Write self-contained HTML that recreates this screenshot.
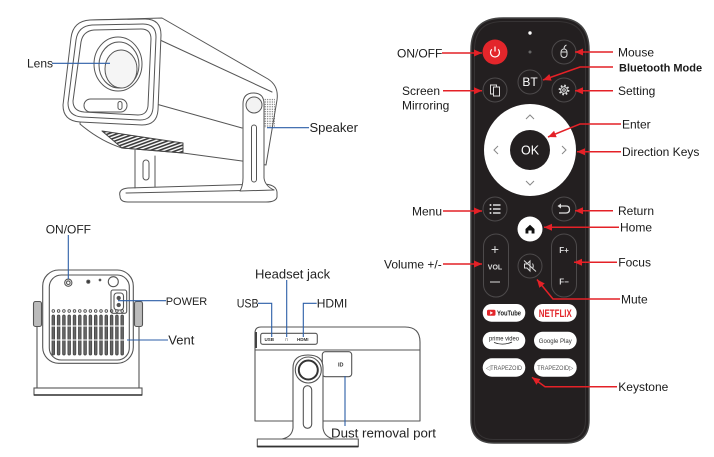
<!DOCTYPE html>
<html><head><meta charset="utf-8"><style>
html,body{margin:0;padding:0;background:#fff;}
svg{display:block;}
text{font-family:"Liberation Sans",Arial,sans-serif;}
</style></head><body>
<svg width="714" height="457" viewBox="0 0 714 457" xmlns="http://www.w3.org/2000/svg">
<defs>
<marker id="ar" markerUnits="userSpaceOnUse" markerWidth="9" markerHeight="8" refX="8" refY="4" orient="auto"><path d="M0,0.5 L8,4 L0,7.5 z" fill="#e42127"/></marker>
<pattern id="hatch" width="3" height="3" patternUnits="userSpaceOnUse" patternTransform="rotate(70)"><rect width="1.6" height="3" fill="#3a3a3a"/></pattern>
<pattern id="dots" width="2.4" height="2.4" patternUnits="userSpaceOnUse"><circle cx="1.2" cy="1.2" r="0.6" fill="#555"/></pattern>
</defs>
<rect width="714" height="457" fill="#fff"/>

<!-- ===== Top projector ===== -->
<g fill="#fff" stroke="#555" stroke-width="1" stroke-linejoin="round" stroke-linecap="round">
  <path d="M120,196 Q118,189 128,188 L262,184 Q276,184 277,192 L277,197 Q276,202 266,202 L128,202 Q120,202 120,196 Z"/>
  <path d="M126,193 L268,190" fill="none"/>
  <path d="M135,150 L135,188 M155,156 L155,187" fill="none"/>
  <rect x="143" y="160" width="6" height="20" rx="3"/>
  <path d="M90,20 L162,18 L268,79 Q279,86 277,100 L266,165 L242,161 L183,153 L122,148 Q100,141 80,124 Z"/>
  <path d="M160,40 L272,92" fill="none"/>
  <path d="M149,102 L242,128" fill="none"/>
  <path d="M102,131 L183,143 L183,153 L122,148 Z" fill="url(#hatch)" stroke="#444"/>
  <path d="M90,20 L145,19 Q161,19 161,35 L158,110 Q157,125 142,125 L80,122 Q63,121 63,105 L71,38 Q73,21 90,20 Z"/>
  <path d="M92,25 L143,24 Q156,24 156,37 L153,108 Q152,120 140,120 L82,117 Q68,116 68,103 L76,40 Q78,26 92,25 Z" fill="none"/>
  <path d="M94,30 L141,29 Q151,29 151,39 L148,106 Q147,115 138,115 L84,112 Q73,111 73,101 L81,42 Q83,31 94,30 Z" fill="none"/>
  <ellipse cx="118" cy="64" rx="24" ry="27" fill="none"/>
  <ellipse cx="119" cy="65" rx="20" ry="23" fill="none"/>
  <ellipse cx="121" cy="69" rx="16" ry="19" fill="#f5f5f5"/>
  <rect x="84" y="99" width="43" height="13" rx="6.5" fill="none"/>
  <rect x="118" y="101.5" width="4" height="8" rx="2" fill="none"/>
  <rect x="262" y="98" width="13" height="30" fill="url(#dots)" stroke="none"/>
  <path d="M243,104 Q243,93 253.5,93 Q264,93 264,104 L264,178 Q265,186 274,190 L240,191 Q243,186 243,178 Z"/>
  <circle cx="254" cy="105" r="8" fill="#f3f3f3"/>
  <rect x="251.5" y="125" width="5" height="57" rx="2.5"/>
</g>
<g stroke="#2b5ea7" stroke-width="1.1" fill="none">
  <line x1="52" y1="63.3" x2="110" y2="63.3"/>
  <line x1="267" y1="127.7" x2="309" y2="127.7"/>
</g>
<text x="27" y="67.5" font-size="12" fill="#222">Lens</text>
<text x="309.5" y="132" font-size="13" fill="#222">Speaker</text>

<!-- ===== Back view (bottom-left) ===== -->
<g fill="#fff" stroke="#555" stroke-width="1.1">
  <path d="M37,326 L37,388 M139,326 L139,388" fill="none"/>
  <rect x="34" y="388" width="108" height="7"/>
  <line x1="34" y1="395" x2="142" y2="395" stroke="#333" stroke-width="1.6"/>
  <rect x="33.5" y="301.5" width="8" height="25" rx="2" fill="#bbb"/>
  <rect x="134.5" y="301.5" width="8" height="25" rx="2" fill="#bbb"/>
  <rect x="42.7" y="270" width="90.6" height="93.3" rx="16"/>
  <rect x="49.3" y="275" width="80" height="85" rx="12"/>
  <circle cx="68.3" cy="282.7" r="3.6"/>
  <circle cx="68.3" cy="282.7" r="1.8"/>
  <circle cx="88.3" cy="281.7" r="1.5" fill="#333"/>
  <circle cx="100" cy="280" r="0.8" fill="#333"/>
  <circle cx="113.3" cy="281.7" r="5"/>
  <rect x="111" y="290" width="15.7" height="23.3" rx="2"/>
  <rect x="114" y="293" width="9.5" height="17" rx="3"/>
  <circle cx="118.7" cy="298" r="1.6" fill="#555"/>
  <circle cx="118.7" cy="305" r="1.6" fill="#555"/>
</g>
<g stroke="#444" stroke-width="0.8" fill="#666">
  <circle cx="53.3" cy="311" r="1.3" fill="none"/><rect x="52" y="315" width="2.6" height="40" rx="1.3"/>
  <circle cx="58.6" cy="311" r="1.3" fill="none"/><rect x="57.3" y="315" width="2.6" height="40" rx="1.3"/>
  <circle cx="63.9" cy="311" r="1.3" fill="none"/><rect x="62.6" y="315" width="2.6" height="40" rx="1.3"/>
  <circle cx="69.2" cy="311" r="1.3" fill="none"/><rect x="67.9" y="315" width="2.6" height="40" rx="1.3"/>
  <circle cx="74.5" cy="311" r="1.3" fill="none"/><rect x="73.2" y="315" width="2.6" height="40" rx="1.3"/>
  <circle cx="79.8" cy="311" r="1.3" fill="none"/><rect x="78.5" y="315" width="2.6" height="40" rx="1.3"/>
  <circle cx="85.1" cy="311" r="1.3" fill="none"/><rect x="83.8" y="315" width="2.6" height="40" rx="1.3"/>
  <circle cx="90.4" cy="311" r="1.3" fill="none"/><rect x="89.1" y="315" width="2.6" height="40" rx="1.3"/>
  <circle cx="95.7" cy="311" r="1.3" fill="none"/><rect x="94.4" y="315" width="2.6" height="40" rx="1.3"/>
  <circle cx="101" cy="311" r="1.3" fill="none"/><rect x="99.7" y="315" width="2.6" height="40" rx="1.3"/>
  <circle cx="106.3" cy="311" r="1.3" fill="none"/><rect x="105" y="315" width="2.6" height="40" rx="1.3"/>
  <circle cx="111.6" cy="311" r="1.3" fill="none"/><rect x="110.3" y="315" width="2.6" height="40" rx="1.3"/>
  <circle cx="116.9" cy="311" r="1.3" fill="none"/><rect x="115.6" y="315" width="2.6" height="40" rx="1.3"/>
  <circle cx="122.2" cy="311" r="1.3" fill="none"/><rect x="120.9" y="315" width="2.6" height="40" rx="1.3"/>
</g>
<g stroke="#fff" stroke-width="1">
  <line x1="51" y1="326" x2="125" y2="326"/>
  <line x1="51" y1="340" x2="125" y2="340"/>
</g>
<g stroke="#2b5ea7" stroke-width="1.1" fill="none">
  <line x1="68.3" y1="235" x2="68.3" y2="279"/>
  <line x1="118" y1="300.7" x2="166" y2="300.7"/>
  <line x1="127" y1="340" x2="168" y2="340"/>
</g>
<text x="45.7" y="233.3" font-size="12" fill="#222">ON/OFF</text>
<text x="165.7" y="305" font-size="11" fill="#222">POWER</text>
<text x="168.3" y="344.3" font-size="13" fill="#222">Vent</text>

<!-- ===== Back view (bottom-middle) ===== -->
<g fill="#fff" stroke="#555" stroke-width="1.1" stroke-linejoin="round">
  <path d="M255,421 L255,333 Q255,327 261,327 L405,327 Q420,327 420,342 L420,421 Z"/>
  <rect x="255" y="332" width="2" height="16" fill="#444" stroke="none"/>
  <line x1="255" y1="350" x2="420" y2="350"/>
  <rect x="260.7" y="333.3" width="56.6" height="11" rx="2"/>
  <rect x="322.3" y="351.7" width="29.4" height="25" rx="3"/>
  <path d="M293,368 Q293,355 308,355 Q323,355 323,368 L323,428 Q324,437 334,439 L282,439 Q292,437 293,428 Z"/>
  <circle cx="308.3" cy="370" r="13"/>
  <circle cx="308.3" cy="370" r="9.5" stroke="#333" stroke-width="2"/>
  <rect x="303.3" y="385.7" width="8.4" height="42.6" rx="4.2"/>
  <rect x="257.3" y="439" width="101" height="7.7"/>
  <line x1="257.3" y1="446.5" x2="358.3" y2="446.5" stroke="#333" stroke-width="1.8"/>
</g>
<text x="264.5" y="341" font-size="4.5" font-weight="bold" fill="#333">USB</text>
<text x="284.5" y="341" font-size="6" fill="#333">∩</text>
<text x="297" y="341" font-size="4.5" font-weight="bold" fill="#333">HDMI</text>
<text x="338" y="366.5" font-size="5.5" font-weight="bold" fill="#333">ID</text>
<g stroke="#2b5ea7" stroke-width="1.1" fill="none">
  <polyline points="258,303.3 271.7,303.3 271.7,337"/>
  <line x1="286.7" y1="280" x2="286.7" y2="337"/>
  <polyline points="316.7,303.3 303.3,303.3 303.3,337"/>
  <line x1="345" y1="376" x2="345" y2="426"/>
</g>
<text x="255" y="278.5" font-size="13" fill="#222">Headset jack</text>
<text x="236.7" y="307.6" font-size="12" fill="#222" textLength="22" lengthAdjust="spacingAndGlyphs">USB</text>
<text x="316.7" y="307.6" font-size="12" fill="#222">HDMI</text>
<text x="331" y="437.5" font-size="13" fill="#222" textLength="105" lengthAdjust="spacingAndGlyphs">Dust removal port</text>

<!-- ===== Remote ===== -->
<path d="M471,50 Q471,18 503,18 L557,18 Q589,18 589,50 L589,420 Q589,443 566,443 L494,443 Q471,443 471,420 Z" fill="#231f20" stroke="#444" stroke-width="1.5"/>
<path d="M474.5,50 Q474.5,21.5 503,21.5 L557,21.5 Q585.5,21.5 585.5,50 L585.5,420 Q585.5,439.5 566,439.5 L494,439.5 Q474.5,439.5 474.5,420 Z" fill="none" stroke="#363334" stroke-width="1"/>
<circle cx="530" cy="33" r="1.7" fill="#fff"/>
<circle cx="530" cy="52" r="1.5" fill="#666"/>
<!-- power -->
<circle cx="495" cy="52" r="12.5" fill="#e3262b"/>
<path d="M491.8,49.3 A4.5,4.5 0 1 0 498.2,49.3" fill="none" stroke="#fff" stroke-width="1.2"/>
<line x1="495" y1="46.5" x2="495" y2="51.5" stroke="#fff" stroke-width="1.2"/>
<g fill="none" stroke="#4d4a4b" stroke-width="1">
  <circle cx="564" cy="52" r="12"/>
  <circle cx="530" cy="82" r="12"/>
  <circle cx="495" cy="90" r="12"/>
  <circle cx="564" cy="90" r="12"/>
  <circle cx="495" cy="209" r="12"/>
  <circle cx="564" cy="209" r="12"/>
  <circle cx="530" cy="266" r="12"/>
  <rect x="483.5" y="234" width="25" height="63" rx="12.5"/>
  <rect x="551.5" y="234" width="25" height="63" rx="12.5"/>
</g>
<!-- mouse icon -->
<g fill="none" stroke="#ddd" stroke-width="1">
  <rect x="561" y="49" width="6" height="8.5" rx="3"/>
  <line x1="561" y1="52" x2="567" y2="52"/>
  <path d="M564,49 Q564,46 566.5,45"/>
  <!-- mirror -->
  <rect x="490.5" y="85" width="6" height="9"/>
  <rect x="493.5" y="87" width="6" height="9" fill="#231f20"/>
  <!-- gear -->
  <circle cx="564" cy="90" r="4.3" stroke-width="2.2" stroke-dasharray="1.6 1.78"/>
  <circle cx="564" cy="90" r="3.3"/>
  <circle cx="564" cy="90" r="1.3"/>
  <!-- return -->
  <path d="M560,206 L566,206 Q569.5,206 569.5,209.5 Q569.5,213 566,213 L559,213" stroke-width="1.3"/>
  <!-- mute -->
  <path d="M524.5,264 L527,264 L530,261 L530,271 L527,268 L524.5,268 Z"/>
  <line x1="524" y1="260.5" x2="536" y2="271.5"/>
  <path d="M532.5,263.5 Q534,266 532.5,268.5"/>
</g>
<path d="M557.5,206 L561,203.5 L561,208.5 Z" fill="#ddd"/>
<text x="530" y="86.2" font-size="12" fill="#fff" text-anchor="middle">BT</text>
<!-- menu icon -->
<g fill="#ddd"><circle cx="490.5" cy="205" r="1"/><circle cx="490.5" cy="209" r="1"/><circle cx="490.5" cy="213" r="1"/></g>
<g stroke="#ddd" stroke-width="1.5"><line x1="493" y1="205" x2="500.5" y2="205"/><line x1="493" y1="209" x2="500.5" y2="209"/><line x1="493" y1="213" x2="500.5" y2="213"/></g>
<!-- dpad -->
<circle cx="530" cy="150" r="46" fill="#fff"/>
<circle cx="530" cy="150" r="20" fill="#231f20"/>
<text x="530" y="154.5" font-size="12.5" fill="#fff" text-anchor="middle">OK</text>
<g fill="none" stroke="#888" stroke-width="1">
  <polyline points="526,119 530,115 534,119"/>
  <polyline points="526,181 530,185 534,181"/>
  <polyline points="498,146 494,150 498,154"/>
  <polyline points="562,146 566,150 562,154"/>
</g>
<!-- home -->
<circle cx="530" cy="229" r="12.5" fill="#fff"/>
<polygon points="525.5,229 530,224.8 534.5,229 534.5,233.5 531.6,233.5 531.6,230.5 528.4,230.5 528.4,233.5 525.5,233.5" fill="#111"/>
<!-- vol / focus -->
<text x="495" y="254" font-size="14" fill="#ddd" text-anchor="middle">+</text>
<text x="495" y="269.5" font-size="7" font-weight="bold" fill="#ddd" text-anchor="middle">VOL</text>
<line x1="490" y1="282" x2="500" y2="282" stroke="#ddd" stroke-width="1"/>
<text x="564" y="253" font-size="8" font-weight="bold" fill="#ddd" text-anchor="middle">F+</text>
<text x="564" y="284.5" font-size="8" font-weight="bold" fill="#ddd" text-anchor="middle">F−</text>
<!-- app pills -->
<g fill="#fff">
  <rect x="482.7" y="304" width="42.6" height="17.7" rx="8.8"/>
  <rect x="534" y="304" width="42.7" height="17.7" rx="8.8"/>
  <rect x="482.7" y="331.7" width="42.6" height="17.6" rx="8.8"/>
  <rect x="534" y="331.7" width="42.7" height="17.6" rx="8.8"/>
  <rect x="482.7" y="358.3" width="42.6" height="18.4" rx="9.2"/>
  <rect x="534" y="358.3" width="42.7" height="18.4" rx="9.2"/>
</g>
<rect x="487" y="309.8" width="8.5" height="6" rx="1.5" fill="#e3262b"/>
<polygon points="490.2,311.2 490.2,314.6 493,312.9" fill="#fff"/>
<text x="497" y="315.6" font-size="7" font-weight="bold" fill="#222" textLength="24" lengthAdjust="spacingAndGlyphs">YouTube</text>
<text x="555.3" y="317" font-size="11" font-weight="bold" fill="#e3262b" text-anchor="middle" textLength="33" lengthAdjust="spacingAndGlyphs">NETFLIX</text>
<text x="504" y="340.5" font-size="6.5" fill="#222" text-anchor="middle" textLength="30" lengthAdjust="spacingAndGlyphs">prime video</text>
<path d="M494,342.5 Q503,346 512,342" fill="none" stroke="#222" stroke-width="0.8"/>
<text x="555.3" y="343" font-size="6.5" fill="#333" text-anchor="middle" textLength="33" lengthAdjust="spacingAndGlyphs">Google Play</text>
<text x="504" y="370" font-size="6.5" fill="#555" text-anchor="middle" textLength="36" lengthAdjust="spacingAndGlyphs">◁TRAPEZOID</text>
<text x="555.3" y="370" font-size="6.5" fill="#555" text-anchor="middle" textLength="36" lengthAdjust="spacingAndGlyphs">TRAPEZOID▷</text>

<!-- ===== Red callouts ===== -->
<g stroke="#e42127" stroke-width="1.5" fill="none" marker-end="url(#ar)">
  <line x1="442" y1="53" x2="482" y2="53"/>
  <line x1="443" y1="90.7" x2="482" y2="90.7"/>
  <line x1="443" y1="211" x2="482" y2="211"/>
  <line x1="443" y1="264" x2="482" y2="264"/>
  <line x1="613" y1="52" x2="575" y2="52"/>
  <polyline points="613,67 580,67 543,80"/>
  <line x1="613" y1="90.7" x2="575" y2="90.7"/>
  <polyline points="621,124 580,124 548,137"/>
  <line x1="621" y1="151.7" x2="577" y2="151.7"/>
  <line x1="613" y1="210.7" x2="575" y2="210.7"/>
  <line x1="619" y1="227.3" x2="544" y2="227.3"/>
  <line x1="617" y1="262.3" x2="574" y2="262.3"/>
  <polyline points="620,299 553,299 537,279.5"/>
  <polyline points="617,386.7 545,386.7 532,377.3"/>
</g>
<g font-size="12" fill="#1a1a1a">
  <text x="397" y="57.5">ON/OFF</text>
  <text x="402" y="95">Screen</text>
  <text x="402" y="109.5">Mirroring</text>
  <text x="412" y="215.3">Menu</text>
  <text x="384" y="268.3">Volume +/-</text>
  <text x="618" y="56.3">Mouse</text>
  <text x="619" y="71.5" font-size="11" font-weight="bold">Bluetooth Mode</text>
  <text x="618" y="95">Setting</text>
  <text x="622" y="128.3">Enter</text>
  <text x="622" y="156">Direction Keys</text>
  <text x="618" y="215">Return</text>
  <text x="620" y="231.6">Home</text>
  <text x="618.3" y="266.6">Focus</text>
  <text x="621" y="303.3">Mute</text>
  <text x="618.3" y="391">Keystone</text>
</g>
</svg>
</body></html>
